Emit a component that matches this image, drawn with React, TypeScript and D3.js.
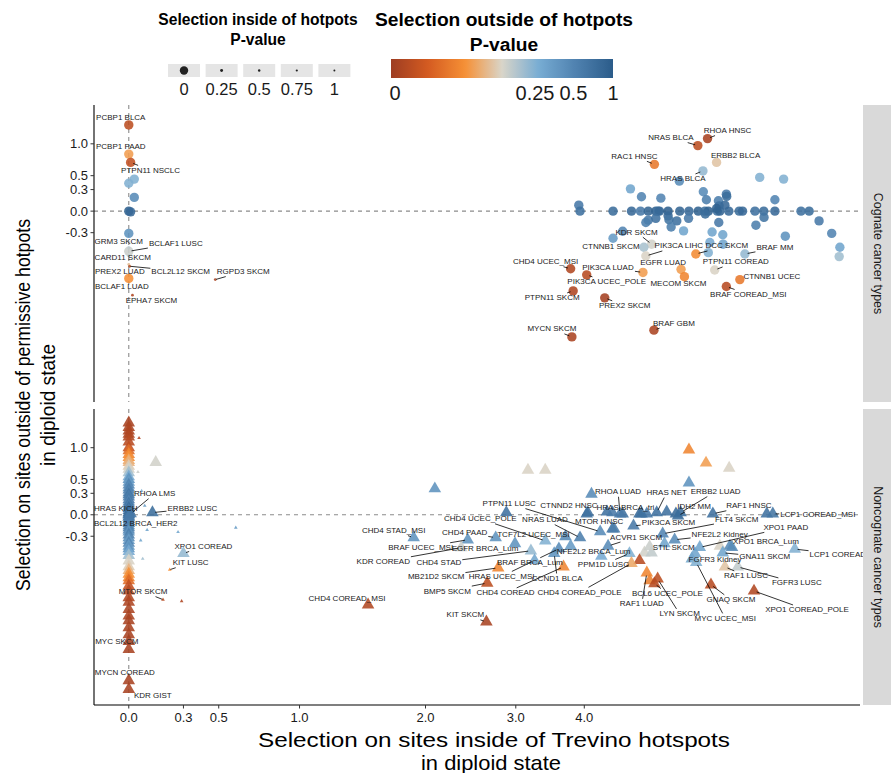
import React, { useMemo } from "react";
import * as d3 from "d3";

// ---------------------------------------------------------------- data
// Rows: [label, x (inside hotspots), y (outside hotspots), p outside, p inside]
type Row = [string, number, number, number, number];
// Unlabelled rows: [x, y, p outside, p inside]
type Pt = [number, number, number, number];

const cognateLabeled: Row[] = [
  ["PCBP1 BLCA", 0, 1.34, 0.01, 0],
  ["PCBP1 PAAD", 0, 0.83, 0.07, 0],
  ["PTPN11 NSCLC", 0.01, 0.7, 0.012, 0],
  ["GRM3 SKCM", 0, -0.52, 0.3, 0.5],
  ["BCLAF1 LUSC", 0, -0.57, 0.15, 0],
  ["CARD11 SKCM", 0, -0.64, 0.2, 0.5],
  ["PREX2 LUAD", 0, -0.77, 0.1, 0.5],
  ["BCL2L12 SKCM", 0.005, -0.8, 0.01, 0.5],
  ["BCLAF1 LUAD", 0, -1.0, 0.06, 0],
  ["EPHA7 SKCM", 0.02, -1.3, 0.005, 0.5],
  ["RGPD3 SKCM", 0.48, -1.02, 0.004, 0.5],
  ["NRAS BLCA", 6.33, 0.97, 0.01, 0],
  ["RHOA HNSC", 6.58, 1.09, 0.003, 0],
  ["RAC1 HNSC", 5.32, 0.67, 0.04, 0],
  ["ERBB2 BLCA", 6.82, 0.7, 0.11, 0],
  ["HRAS BLCA", 6.46, 0.57, 0.22, 0],
  ["KDR SKCM", 5.26, -0.465, 0.14, 0],
  ["CTNNB1 SKCM", 5.1, -0.51, 0.19, 0],
  ["PIK3CA LIHC", 5.14, -0.64, 0.13, 0],
  ["DCC SKCM", 6.28, -0.61, 0.055, 0],
  ["BRAF MM", 7.63, -0.61, 0.22, 0],
  ["EGFR LUAD", 5.92, -0.85, 0.07, 0],
  ["PTPN11 COREAD", 6.77, -0.86, 0.13, 0],
  ["CHD4 UCEC_MSI", 3.78, -0.84, 0.006, 0],
  ["PIK3CA LUAD", 5.08, -0.9, 0.07, 0],
  ["PIK3CA UCEC_POLE", 4.04, -0.94, 0.008, 0],
  ["MECOM SKCM", 6.0, -0.97, 0.05, 0],
  ["CTNNB1 UCEC", 7.48, -1.02, 0.04, 0],
  ["BRAF COREAD_MSI", 7.09, -1.14, 0.008, 0],
  ["PTPN11 SKCM", 3.82, -1.22, 0.005, 0],
  ["PREX2 SKCM", 4.35, -1.35, 0.002, 0],
  ["BRAF GBM", 5.31, -2.05, 0.004, 0],
  ["MYCN SKCM", 3.8, -2.22, 0.004, 0],
];

const cognateOther: Pt[] = [
  [0.03, 0.45, 0.25, 0], [0, 0.39, 0.25, 0], [0.03, 0.19, 0.45, 0],
  [0, 0, 0.9, 0], [0.01, -0.01, 0.8, 0], [0, -0.31, 0.4, 0],
  [5.88, 0.42, 0.45, 0], [8.09, 0.475, 0.25, 0], [8.89, 0.45, 0.25, 0],
  [4.83, 0.31, 0.3, 0], [5.05, 0.2, 0.5, 0], [5.46, 0.18, 0.5, 0],
  [6.47, 0.27, 0.45, 0], [6.55, 0.157, 0.55, 0], [7.09, 0.236, 0.6, 0],
  [7.1, 0.204, 0.75, 0], [6.87, 0.143, 0.55, 0], [8.59, 0.157, 0.5, 0],
  [3.91, 0.083, 0.6, 0],
  [3.93, 0, 0.7, 0], [4.5, 0, 0.75, 0], [4.85, 0, 0.8, 0], [5.03, 0, 0.6, 0],
  [5.19, 0, 0.85, 0], [5.35, 0, 0.9, 0], [5.4, 0, 0.7, 0], [5.43, 0, 0.8, 0],
  [5.62, 0, 0.95, 0], [5.89, 0, 0.85, 0], [6.11, 0, 0.8, 0], [6.34, 0, 0.9, 0],
  [6.51, 0, 0.75, 0], [6.6, 0, 0.9, 0], [6.84, 0, 0.7, 0], [6.91, 0, 0.85, 0],
  [7.16, 0, 0.8, 0], [7.46, 0, 0.75, 0], [7.56, 0, 0.8, 0], [7.94, 0, 0.7, 0],
  [8.22, 0, 0.75, 0], [8.59, 0, 0.8, 0], [9.52, 0, 0.7, 0], [9.83, 0, 0.75, 0],
  [6.89, 0.073, 0.7, 0], [7.05, 0.083, 0.8, 0], [6.82, 0.037, 0.9, 0],
  [5.19, -0.125, 0.6, 0], [5.14, -0.157, 0.55, 0], [5.35, -0.1, 0.7, 0],
  [5.62, -0.065, 0.8, 0], [5.64, -0.12, 0.65, 0], [5.82, -0.135, 0.7, 0],
  [5.69, -0.22, 0.55, 0], [6.1, -0.1, 0.6, 0], [6.52, -0.04, 0.75, 0],
  [6.88, -0.157, 0.6, 0], [7.97, -0.195, 0.55, 0], [8.23, -0.087, 0.65, 0],
  [10.22, -0.135, 0.6, 0], [10.74, -0.31, 0.5, 0], [6.7, -0.29, 0.3, 0],
  [6.99, -0.33, 0.3, 0], [5.98, -0.275, 0.3, 0], [8.95, -0.35, 0.4, 0],
  [4.5, -0.38, 0.35, 0], [4.68, -0.28, 0.5, 0], [11.09, -0.51, 0.3, 0],
  [11.06, -0.65, 0.2, 0], [6.64, -0.44, 0.28, 0], [7.0, -0.465, 0.3, 0],
  [6.6, -0.59, 0.25, 0],
];

const noncognateLabeled: Row[] = [
  ["HRAS KICH", 0, 0.01, 0.7, 0],
  ["RHOA LMS", 0.01, 0.015, 0.6, 0],
  ["ERBB2 LUSC", 0.129, 0.03, 0.75, 0],
  ["BCL2L12 BRCA_HER2", 0, -0.03, 0.6, 0],
  ["XPO1 COREAD", 0.3, -0.55, 0.22, 0],
  ["KIT LUSC", 0.224, -0.8, 0.06, 0.5],
  ["MTOR SKCM", 0.187, -1.32, 0.008, 0.5],
  ["MYC SKCM", 0, -2.47, 0.003, 0],
  ["MYCN COREAD", 0, -3.48, 0.003, 0],
  ["KDR GIST", 0, -3.82, 0.003, 0],
  ["CHD4 STAD_MSI", 1.89, -0.32, 0.4, 0],
  ["CHD4 PAAD", 2.75, -0.32, 0.4, 0],
  ["BRAF UCEC_MSI", 2.43, -0.35, 0.4, 0],
  ["KDR COREAD", 2.36, -0.465, 0.15, 0],
  ["CHD4 STAD", 3.2, -0.51, 0.22, 0],
  ["EGFR BRCA_Lum", 2.99, -0.405, 0.4, 0],
  ["TCF7L2 UCEC_MSI", 3.7, -0.305, 0.45, 0],
  ["CHD4 UCEC_POLE", 3.4, -0.365, 0.25, 0],
  ["PTPN11 LUSC", 4.27, -0.235, 0.45, 0],
  ["CTNND2 HNSC", 4.06, 0.03, 0.7, 0],
  ["NRAS LUAD", 3.93, -0.32, 0.55, 0],
  ["MTOR HNSC", 4.52, -0.195, 0.55, 0],
  ["RHOA LUAD", 4.63, 0.014, 0.6, 0],
  ["HRAS NET", 5.37, 0.03, 0.7, 0],
  ["ERBB2 LUAD", 5.91, 0.03, 0.75, 0],
  ["HRAS BRCA_tri", 5.05, 0.014, 0.7, 0],
  ["IDH2 MM", 5.85, -0.014, 0.75, 0],
  ["RAF1 HNSC", 6.72, 0.014, 0.7, 0],
  ["LCP1 COREAD_MSI", 8.52, 0.014, 0.65, 0],
  ["PIK3CA SKCM", 4.89, -0.153, 0.6, 0],
  ["FLT4 SKCM", 5.5, -0.265, 0.5, 0],
  ["ACVR1 SKCM", 4.41, -0.44, 0.45, 0],
  ["NFE2L2 Kidney", 5.77, -0.35, 0.45, 0],
  ["NFE2L2 BRCA_Lum", 3.78, -0.44, 0.35, 0],
  ["XPO1 PAAD", 6.38, -0.46, 0.3, 0],
  ["STIL SKCM", 5.22, -0.45, 0.15, 0],
  ["XPO1 BRCA_Lum", 7.25, -0.46, 0.45, 0],
  ["GNA11 SKCM", 6.99, -0.54, 0.3, 0],
  ["LCP1 COREAD", 9.29, -0.485, 0.25, 0],
  ["FGFR3 Kidney", 6.26, -0.55, 0.3, 0],
  ["RAF1 LUSC", 7.05, -0.755, 0.11, 0],
  ["FGFR3 LUSC", 7.42, -0.755, 0.16, 0],
  ["GNAQ SKCM", 6.67, -1.05, 0.008, 0],
  ["XPO1 COREAD_POLE", 7.91, -1.16, 0.006, 0],
  ["LYN SKCM", 5.39, -0.95, 0.01, 0],
  ["BCL6 UCEC_POLE", 5.32, -1.03, 0.008, 0],
  ["RAF1 LUAD", 5.16, -0.85, 0.05, 0],
  ["MYC UCEC_MSI", 6.29, -0.685, 0.25, 0],
  ["PPM1D LUSC", 4.81, -0.55, 0.25, 0],
  ["CHD4 COREAD_POLE", 4.85, -0.7, 0.08, 0],
  ["CCND1 BLCA", 3.53, -0.55, 0.4, 0],
  ["BRAF BRCA_Lum", 3.6, -0.48, 0.45, 0],
  ["CHD4 COREAD", 3.67, -0.755, 0.05, 0],
  ["HRAS UCEC_MSI", 3.25, -0.655, 0.3, 0],
  ["MB21D2 SKCM", 2.78, -0.77, 0.05, 0],
  ["BMP5 SKCM", 2.65, -1.02, 0.01, 0],
  ["CHD4 COREAD_MSI", 1.5, -1.42, 0.006, 0],
  ["KIT SKCM", 2.64, -1.78, 0.003, 0],
];

const noncognateOther: Pt[] = [
  [3.16, 0.64, 0.13, 0], [3.4, 0.64, 0.13, 0], [2.09, 0.365, 0.4, 0],
  [6.11, 0.965, 0.05, 0], [6.54, 0.75, 0.07, 0], [7.17, 0.67, 0.13, 0],
  [6.11, 0.45, 0.4, 0], [4.12, 0.29, 0.45, 0], [2.88, 0.03, 0.7, 0],
  [4.04, 0.014, 0.7, 0], [4.39, 0.04, 0.7, 0], [4.49, 0.03, 0.6, 0],
  [4.68, 0.014, 0.7, 0], [5.01, 0.014, 0.8, 0], [5.16, 0.014, 0.6, 0],
  [5.59, 0.04, 0.7, 0], [5.8, 0.014, 0.8, 0], [8.32, 0.014, 0.7, 0],
  [4.49, -0.195, 0.7, 0], [5.54, -0.405, 0.3, 0], [6.18, -0.63, 0.3, 0],
  [6.91, -0.44, 0.13, 0], [7.19, -0.44, 0.45, 0], [5.11, -0.54, 0.14, 0],
  [5.26, -0.54, 0.16, 0], [5.01, -0.655, 0.008, 0], [5.22, -0.98, 0.045, 0],
  [4.29, -0.59, 0.28, 0], [0.147, 0.76, 0.14, 0],
  [0.056, 1.17, 0.005, 0.5], [0.1, -0.21, 0.3, 0.5], [0.27, -0.24, 0.3, 0.5],
  [0.6, -0.18, 0.35, 0.5], [0.29, -1.35, 0.005, 0.5], [0.07, 0.335, 0.25, 0.5],
  [0.087, 0.125, 0.35, 0.5], [0.065, -0.36, 0.3, 0.5], [0.05, 0.61, 0.15, 0.5],
  [0.076, -0.63, 0.2, 0.5],
];

// Stack of noncognate genes with no selection inside hotspots: [y, p outside]
const noncognateColumn: [number, number][] = [
  [1.46, 0.003], [1.37, 0.004], [1.3, 0.005], [1.24, 0.005], [1.19, 0.006],
  [1.1, 0.008], [1.0, 0.012], [0.95, 0.03], [0.89, 0.05], [0.84, 0.06],
  [0.79, 0.08], [0.76, 0.09], [0.7, 0.12], [0.655, 0.14], [0.6, 0.2],
  [0.54, 0.28], [0.5, 0.4], [0.46, 0.35], [0.42, 0.5], [0.38, 0.45],
  [0.35, 0.55], [0.31, 0.5], [0.28, 0.65], [0.25, 0.55], [0.21, 0.6],
  [0.18, 0.5], [0.15, 0.65], [0.12, 0.55], [0.09, 0.75], [0.06, 0.6],
  [0.03, 0.85], [0, 0.7], [-0.03, 0.55], [-0.06, 0.65], [-0.09, 0.5],
  [-0.12, 0.6], [-0.15, 0.45], [-0.18, 0.55], [-0.21, 0.5], [-0.24, 0.4],
  [-0.28, 0.55], [-0.32, 0.45], [-0.36, 0.35], [-0.4, 0.5], [-0.44, 0.35],
  [-0.48, 0.4], [-0.52, 0.28], [-0.58, 0.2], [-0.66, 0.13], [-0.75, 0.12],
  [-0.81, 0.09], [-0.87, 0.06], [-0.93, 0.05], [-0.98, 0.03], [-1.07, 0.012],
  [-1.16, 0.008], [-1.28, 0.006], [-1.37, 0.005], [-1.51, 0.004],
  [-1.65, 0.004], [-1.75, 0.003], [-1.91, 0.003], [-2.08, 0.003],
  [-2.25, 0.002],
];

const X_BREAKS = [0, 0.3, 0.5, 1, 2, 3, 4];
const X_TICK_LABELS = ["0.0", "0.3", "0.5", "1.0", "2.0", "3.0", "4.0"];
const Y_BREAKS = [-0.3, 0, 0.3, 0.5, 1];
const Y_TICK_LABELS = ["-0.3", "0.0", "0.3", "0.5", "1.0"];
const SIZE_LEGEND_VALUES = [0, 0.25, 0.5, 0.75, 1];
const SIZE_LEGEND_LABELS = ["0", "0.25", "0.5", "0.75", "1"];
const COLOR_LEGEND_VALUES = [0, 0.25, 0.5, 1];
const COLOR_LEGEND_LABELS = ["0", "0.25", "0.5", "1"];

// ---------------------------------------------------------------- layout
// Label placement (repelled offsets, px from point to label centre)
const LABEL_NUDGE: Record<string, [number, number]> = {
  "PCBP1 BLCA": [-8, -7], "PCBP1 PAAD": [-8, -8], "PTPN11 NSCLC": [20, 8],
  "GRM3 SKCM": [-10, -6], "BCLAF1 LUSC": [47, -8], "CARD11 SKCM": [-6, 2],
  "PREX2 LUAD": [-9, 7], "BCL2L12 SKCM": [51, 5], "BCLAF1 LUAD": [-7, 8],
  "EPHA7 SKCM": [19, 5], "RGPD3 SKCM": [28, -8], "NRAS BLCA": [-27, -8],
  "RHOA HNSC": [20, -8], "RAC1 HNSC": [-20, -8], "ERBB2 BLCA": [19, -7],
  "HRAS BLCA": [-20, 8], "KDR SKCM": [-15, -12], "CTNNB1 SKCM": [-33, -1],
  "PIK3CA LIHC": [33, -10], "DCC SKCM": [31, -8], "BRAF MM": [30, -6],
  "EGFR LUAD": [-18, -7], "PTPN11 COREAD": [21, -8], "CHD4 UCEC_MSI": [-25, -7],
  "PIK3CA LUAD": [-35, -5], "PIK3CA UCEC_POLE": [20, 7], "MECOM SKCM": [-6, 7],
  "CTNNB1 UCEC": [32, -3], "BRAF COREAD_MSI": [22, 8], "PTPN11 SKCM": [-21, 7],
  "PREX2 SKCM": [20, 8], "BRAF GBM": [20, -7], "MYCN SKCM": [-20, -8],
  "HRAS KICH": [-13, -6], "RHOA LMS": [24, -20], "ERBB2 LUSC": [40, -4],
  "BCL2L12 BRCA_HER2": [7, 7], "XPO1 COREAD": [20, -7], "KIT LUSC": [21, -7],
  "MTOR SKCM": [-20, -8], "MYC SKCM": [-12, -8], "MYCN COREAD": [-4, -8],
  "KDR GIST": [24, 6], "CHD4 STAD_MSI": [-20, -7], "CHD4 PAAD": [-31, -5],
  "BRAF UCEC_MSI": [-47, 8], "KDR COREAD": [-78, 14], "CHD4 STAD": [-92, 12],
  "EGFR BRCA_Lum": [-30, 5], "TCF7L2 UCEC_MSI": [-32, -2],
  "CHD4 UCEC_POLE": [-65, -22], "PTPN11 LUSC": [-91, -28],
  "CTNND2 HNSC": [-19, -7], "NRAS LUAD": [-35, -18], "MTOR HNSC": [-15, -7],
  "RHOA LUAD": [-2, -22], "HRAS NET": [10, -20], "ERBB2 LUAD": [35, -21],
  "HRAS BRCA_tri": [-16, -6], "IDH2 MM": [16, -9], "RAF1 HNSC": [36, -8],
  "LCP1 COREAD_MSI": [45, 1], "PIK3CA SKCM": [35, -3], "FLT4 SKCM": [74, -14],
  "ACVR1 SKCM": [28, -9], "NFE2L2 Kidney": [45, -5], "NFE2L2 BRCA_Lum": [23, 5],
  "XPO1 PAAD": [86, -20], "STIL SKCM": [24, 1], "XPO1 BRCA_Lum": [34, -6],
  "GNA11 SKCM": [42, 4], "LCP1 COREAD": [43, 5], "FGFR3 Kidney": [20, 6],
  "RAF1 LUSC": [21, 9], "FGFR3 LUSC": [59, 16], "GNAQ SKCM": [20, 15],
  "XPO1 COREAD_POLE": [53, 19], "LYN SKCM": [22, 35], "BCL6 UCEC_POLE": [13, 10],
  "RAF1 LUAD": [-5, 31], "MYC UCEC_MSI": [29, 56], "PPM1D LUSC": [-26, 11],
  "CHD4 COREAD_POLE": [-52, 29], "CCND1 BLCA": [3, 25], "BRAF BRCA_Lum": [-29, 14],
  "CHD4 COREAD": [-58, 26], "HRAS UCEC_MSI": [-33, 16], "MB21D2 SKCM": [-62, 9],
  "BMP5 SKCM": [-40, 8], "CHD4 COREAD_MSI": [-21, -6], "KIT SKCM": [-21, -7],
};

const W = 891;
const H = 773;
const PANEL_LEFT = 94;
const PANEL_RIGHT = 860;
const STRIP_LEFT = 863;
const X_LIMITS: [number, number] = [-0.19, 12];
const Y_LIMITS: [number, number] = [-4.5, 1.75];
const FONT = "'Liberation Sans', Arial, Helvetica, sans-serif";
const LABEL_FONT_SIZE = 8;
const PALETTE = ["#9e3d22", "#d45b21", "#f69035", "#d9d5c9", "#77acd3", "#4f81af", "#2b5c8a"];

// pseudo-log transform used on both axes
const tf = (v: number) => Math.asinh(v / 1.4);

const xLin = d3.scaleLinear().domain([tf(X_LIMITS[0]), tf(X_LIMITS[1])]).range([PANEL_LEFT, PANEL_RIGHT]);
const xPos = (v: number) => xLin(tf(v));

const colorPos = d3.scaleSymlog().constant(0.024).domain([0, 1]).range([0, 1]).clamp(true);
const colorRamp = d3
  .scaleLinear<string>()
  .domain(PALETTE.map((_, i) => i / (PALETTE.length - 1)))
  .range(PALETTE)
  .interpolate(d3.interpolateRgb);
const colorOf = (p: number) => colorRamp(colorPos(p));

const radiusOf = d3.scaleSymlog().constant(1e-4).domain([0, 1]).range([4.7, 1.1]).clamp(true);

type Mark = { label?: string; x: number; y: number; pOut: number; pIn: number };

const PANELS = [
  {
    key: "cognate",
    top: 105,
    bottom: 402,
    strip: "Cognate cancer types",
    shape: "circle",
    marks: [
      ...cognateOther.map(([x, y, pOut, pIn]) => ({ x, y, pOut, pIn })),
      ...cognateLabeled.map(([label, x, y, pOut, pIn]) => ({ label, x, y, pOut, pIn })),
    ] as Mark[],
  },
  {
    key: "noncognate",
    top: 409,
    bottom: 705,
    strip: "Noncognate cancer types",
    shape: "triangle",
    marks: [
      ...noncognateColumn.map(([y, pOut]) => ({ x: 0, y, pOut, pIn: 0 })),
      ...noncognateOther.map(([x, y, pOut, pIn]) => ({ x, y, pOut, pIn })),
      ...noncognateLabeled.map(([label, x, y, pOut, pIn]) => ({ label, x, y, pOut, pIn })),
    ] as Mark[],
  },
];

function makeMeasurer() {
  let ctx: CanvasRenderingContext2D | null = null;
  try {
    ctx = document.createElement("canvas").getContext("2d");
  } catch (e) {
    ctx = null;
  }
  return (s: string, size: number, weight = "normal") => {
    if (!ctx) return s.length * size * 0.58;
    ctx.font = `${weight} ${size}px ${FONT}`;
    return ctx.measureText(s).width;
  };
}

function symbolPath(shape: string, r: number) {
  if (shape === "circle") return d3.symbol(d3.symbolCircle, Math.PI * r * r)()!;
  return d3.symbol(d3.symbolTriangle, 3.1 * r * r)()!;
}

function Panel({ panel, measure }: { panel: (typeof PANELS)[number]; measure: ReturnType<typeof makeMeasurer> }) {
  const yLin = d3.scaleLinear().domain([tf(Y_LIMITS[0]), tf(Y_LIMITS[1])]).range([panel.bottom, panel.top]);
  const yPos = (v: number) => yLin(tf(v));
  const x0 = xPos(0);
  const y0 = yPos(0);

  const labels = panel.marks
    .filter((m) => m.label)
    .map((m) => {
      const px = xPos(m.x);
      const py = yPos(m.y);
      const [dx, dy] = LABEL_NUDGE[m.label!] || [0, -8];
      const cx = px + dx;
      const cy = py + dy;
      const w = measure(m.label!, LABEL_FONT_SIZE);
      const hw = w / 2 + 1;
      const hh = 5;
      const vx = cx - px;
      const vy = cy - py;
      const s = Math.min(vx !== 0 ? hw / Math.abs(vx) : Infinity, vy !== 0 ? hh / Math.abs(vy) : Infinity);
      let seg: [number, number, number, number] | null = null;
      if (s < 1) {
        const ex = cx - vx * s;
        const ey = cy - vy * s;
        const len = Math.hypot(ex - px, ey - py);
        const r = radiusOf(m.pIn) * 0.6;
        if (len > 3 + r) {
          const ux = (ex - px) / len;
          const uy = (ey - py) / len;
          seg = [px + ux * r, py + uy * r, ex, ey];
        }
      }
      return { label: m.label!, cx, cy, seg };
    });

  return (
    <g>
      {/* reference lines */}
      <line x1={PANEL_LEFT} x2={PANEL_RIGHT} y1={y0} y2={y0} stroke="#8c8c8c" strokeWidth={1.1} strokeDasharray="4,4" />
      <line x1={x0} x2={x0} y1={panel.top} y2={panel.bottom} stroke="#8c8c8c" strokeWidth={1.1} strokeDasharray="4,4" />

      {/* points */}
      <g>
        {panel.marks.map((m, i) => (
          <path
            key={i}
            d={symbolPath(panel.shape, radiusOf(m.pIn))}
            transform={`translate(${xPos(m.x)},${yPos(m.y)})`}
            fill={colorOf(m.pOut)}
            fillOpacity={0.88}
          />
        ))}
      </g>

      {/* repelled labels */}
      <g>
        {labels.map((l) =>
          l.seg ? (
            <line key={"s" + l.label} x1={l.seg[0]} y1={l.seg[1]} x2={l.seg[2]} y2={l.seg[3]} stroke="#000" strokeWidth={0.8} />
          ) : null
        )}
        {labels.map((l) => (
          <text
            key={"t" + l.label}
            x={l.cx}
            y={l.cy}
            textAnchor="middle"
            dominantBaseline="central"
            fontSize={LABEL_FONT_SIZE}
            fontFamily={FONT}
            fill="#1a1a1a"
          >
            {l.label}
          </text>
        ))}
      </g>

      {/* left axis */}
      <line x1={PANEL_LEFT} x2={PANEL_LEFT} y1={panel.top} y2={panel.bottom} stroke="#000" strokeWidth={1.1} />
      {Y_BREAKS.map((b, i) => (
        <g key={b} transform={`translate(0,${yPos(b)})`}>
          <line x1={PANEL_LEFT - 3.5} x2={PANEL_LEFT} stroke="#333" strokeWidth={1} />
          <text x={PANEL_LEFT - 6} textAnchor="end" dominantBaseline="central" fontSize={13} fontFamily={FONT} fill="#1a1a1a">
            {Y_TICK_LABELS[i]}
          </text>
        </g>
      ))}

      {/* facet strip */}
      <rect x={STRIP_LEFT} y={panel.top} width={W - STRIP_LEFT + 2} height={panel.bottom - panel.top} fill="#d9d9d9" />
      <text
        transform={`translate(${STRIP_LEFT + 15},${(panel.top + panel.bottom) / 2}) rotate(90)`}
        textAnchor="middle"
        dominantBaseline="central"
        fontSize={12.5}
        fontFamily={FONT}
        fill="#1a1a1a"
      >
        {panel.strip}
      </text>
    </g>
  );
}

export default function App() {
  const measure = useMemo(() => makeMeasurer(), []);
  const bottom = PANELS[1].bottom;

  // colour bar legend
  const barX0 = 391;
  const barX1 = 613;
  const barScale = d3.scaleLinear().domain([0, 1]).range([barX0, barX1]);
  const gradStops = d3.range(0, 1.0001, 0.02);

  // size legend
  const keyCenters = SIZE_LEGEND_VALUES.map((_, i) => 184 + i * 37.6);

  return (
    <svg
      width={W}
      height={H}
      viewBox={`0 0 ${W} ${H}`}
      style={{ position: "absolute", left: 0, top: 0, background: "#fff" }}
    >
      <defs>
        <linearGradient id="pOutGrad" x1="0" x2="1" y1="0" y2="0">
          {gradStops.map((t) => (
            <stop key={t} offset={`${t * 100}%`} stopColor={colorRamp(t)} />
          ))}
        </linearGradient>
      </defs>
      <rect width={W} height={H} fill="#fff" />

      {/* size legend */}
      <g fontFamily={FONT}>
        <text x={258} y={19} textAnchor="middle" dominantBaseline="central" fontSize={15.6} fontWeight="bold" fill="#000">
          Selection inside of hotpots
        </text>
        <text x={258} y={39} textAnchor="middle" dominantBaseline="central" fontSize={15.6} fontWeight="bold" fill="#000">
          P-value
        </text>
        {SIZE_LEGEND_VALUES.map((v, i) => (
          <g key={v}>
            <rect x={keyCenters[i] - 16} y={64} width={32} height={13} fill="#e5e5e5" />
            <circle cx={keyCenters[i]} cy={70.5} r={v === 0 ? 4.2 : radiusOf(v) * 0.9} fill="#222" />
            <text x={keyCenters[i]} y={89} textAnchor="middle" dominantBaseline="central" fontSize={16.5} fill="#1a1a1a">
              {SIZE_LEGEND_LABELS[i]}
            </text>
          </g>
        ))}
      </g>

      {/* colour legend */}
      <g fontFamily={FONT}>
        <text x={504} y={19} textAnchor="middle" dominantBaseline="central" fontSize={19.2} fontWeight="bold" fill="#000">
          Selection outside of hotpots
        </text>
        <text x={504} y={44} textAnchor="middle" dominantBaseline="central" fontSize={19.2} fontWeight="bold" fill="#000">
          P-value
        </text>
        <rect x={barX0} y={59} width={barX1 - barX0} height={19} fill="url(#pOutGrad)" />
        {COLOR_LEGEND_VALUES.map((v, i) => (
          <text
            key={v}
            x={barScale(colorPos(v)) + (i === 0 ? 4 : 0)}
            y={93}
            textAnchor="middle"
            dominantBaseline="central"
            fontSize={20}
            fill="#1a1a1a"
          >
            {COLOR_LEGEND_LABELS[i]}
          </text>
        ))}
      </g>

      {PANELS.map((p) => (
        <Panel key={p.key} panel={p} measure={measure} />
      ))}

      {/* bottom axis */}
      <line x1={PANEL_LEFT} x2={PANEL_RIGHT} y1={bottom} y2={bottom} stroke="#000" strokeWidth={1.1} />
      {X_BREAKS.map((b, i) => (
        <g key={b} transform={`translate(${xPos(b)},${bottom})`}>
          <line y1={0} y2={3.5} stroke="#333" strokeWidth={1} />
          <text y={12} textAnchor="middle" dominantBaseline="central" fontSize={13} fontFamily={FONT} fill="#1a1a1a">
            {X_TICK_LABELS[i]}
          </text>
        </g>
      ))}

      {/* axis titles (condensed to the narrow title face) */}
      <g fontFamily={FONT} fill="#000" fontSize={21}>
        <text x={494} y={739} textAnchor="middle" dominantBaseline="central" textLength={472} lengthAdjust="spacingAndGlyphs">
          Selection on sites inside of Trevino hotspots
        </text>
        <text x={491} y={762} textAnchor="middle" dominantBaseline="central" textLength={140} lengthAdjust="spacingAndGlyphs">
          in diploid state
        </text>
        <text
          transform="translate(22,405) rotate(-90)"
          textAnchor="middle"
          dominantBaseline="central"
          textLength={372}
          lengthAdjust="spacingAndGlyphs"
        >
          Selection on sites outside of permissive hotpots
        </text>
        <text
          transform="translate(47,405) rotate(-90)"
          textAnchor="middle"
          dominantBaseline="central"
          textLength={122}
          lengthAdjust="spacingAndGlyphs"
        >
          in diploid state
        </text>
      </g>
    </svg>
  );
}
